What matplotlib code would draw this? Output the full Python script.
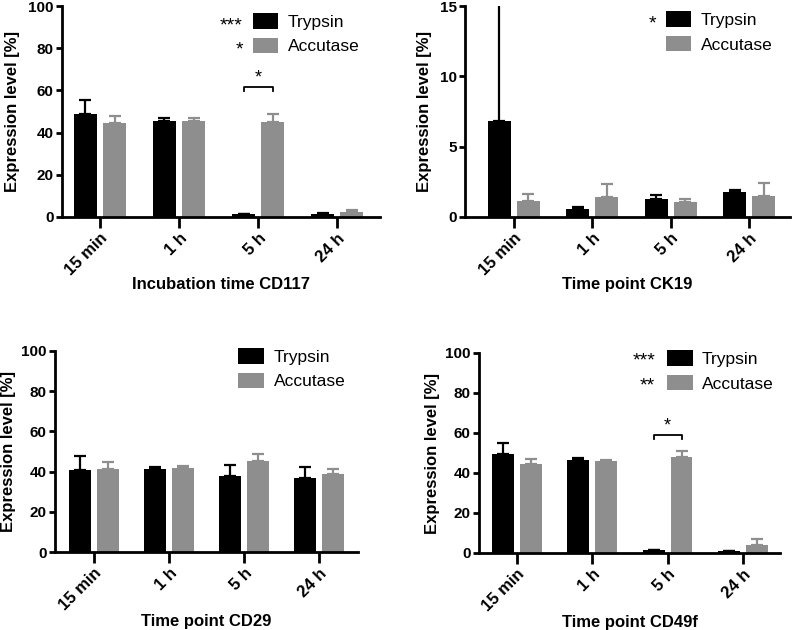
import matplotlib
matplotlib.use('Agg')
import matplotlib.pyplot as plt
import numpy as np
from matplotlib.patches import Patch

plt.rcParams['font.family'] = ['Liberation Sans', 'DejaVu Sans']

categories = ['15 min', '1 h', '5 h', '24 h']
series = ['Trypsin', 'Accutase']

cd117_trypsin = [49.0, 45.5, 1.2, 1.6]
cd117_trypsin_err = [6.5, 1.3, 0.3, 0.3]
cd117_accutase = [44.5, 45.7, 45.2, 2.3]
cd117_accutase_err = [3.3, 1.1, 3.8, 1.2]

ck19_trypsin = [6.8, 0.55, 1.25, 1.75]
ck19_trypsin_err = [9.0, 0.15, 0.3, 0.2]
ck19_accutase = [1.15, 1.45, 1.05, 1.5]
ck19_accutase_err = [0.5, 0.9, 0.25, 0.9]

cd29_trypsin = [41.0, 41.2, 38.0, 37.0]
cd29_trypsin_err = [7.0, 1.3, 5.2, 5.3]
cd29_accutase = [41.5, 42.0, 45.5, 38.8]
cd29_accutase_err = [3.5, 1.0, 3.5, 2.7]

cd49f_trypsin = [49.5, 46.5, 1.3, 1.0]
cd49f_trypsin_err = [5.5, 1.0, 0.3, 0.2]
cd49f_accutase = [44.5, 46.2, 48.2, 4.0]
cd49f_accutase_err = [2.7, 0.4, 3.0, 2.8]

BLACK = '#000000'
GRAY = '#8e8e8e'

W, H = 792, 630
fig = plt.figure(figsize=(W / 100, H / 100), dpi=100)


def rect(l, t, r, b):
    return [l / W, 1 - b / H, (r - l) / W, (b - t) / H]


panels = [
    dict(rect=rect(62, 6, 380, 217), xlim=(-0.48, 3.54), ylim=(0, 100), yticks=[0, 20, 40, 60, 80, 100],
         t=cd117_trypsin, te=cd117_trypsin_err, a=cd117_accutase, ae=cd117_accutase_err,
         xlabel='Incubation time CD117', ypad=6, xpad=-1, leg=(0.60, 0.966),
         stars=[('***', 0.569, 0.885), ('*', 0.569, 0.768)], bracket=(2, 61.5, 2.0)),
    dict(rect=rect(465, 6, 790, 217), xlim=(-0.62, 3.52), ylim=(0, 15), yticks=[0, 5, 10, 15],
         t=ck19_trypsin, te=ck19_trypsin_err, a=ck19_accutase, ae=ck19_accutase_err,
         xlabel='Time point CK19', ypad=5.5, xpad=-1, leg=(0.6175, 0.975),
         stars=[('*', 0.588, 0.893)], bracket=None),
    dict(rect=rect(55, 351, 358, 552), xlim=(-0.52, 3.52), ylim=(0, 100), yticks=[0, 20, 40, 60, 80, 100],
         t=cd29_trypsin, te=cd29_trypsin_err, a=cd29_accutase, ae=cd29_accutase_err,
         xlabel='Time point CD29', ypad=4, xpad=0, leg=(0.605, 1.015), stars=[], bracket=None),
    dict(rect=rect(479, 353, 780, 553), xlim=(-0.5, 3.49), ylim=(0, 100), yticks=[0, 20, 40, 60, 80, 100],
         t=cd49f_trypsin, te=cd49f_trypsin_err, a=cd49f_accutase, ae=cd49f_accutase_err,
         xlabel='Time point CD49f', ypad=4, xpad=0, leg=(0.624, 1.013),
         stars=[('***', 0.585, 0.938), ('**', 0.585, 0.813)], bracket=(2, 59.0, 2.0)),
]

x = np.arange(len(categories))
bw = 0.29
off = 0.185

for p in panels:
    ax = fig.add_axes(p['rect'])
    ax.bar(x - off, p['t'], bw, color=BLACK, zorder=2)
    ax.bar(x + off, p['a'], bw, color=GRAY, zorder=2)
    ax.errorbar(x - off, p['t'], yerr=[np.zeros(4), p['te']], fmt='none', ecolor=BLACK,
                elinewidth=1.6, capsize=4.5, capthick=1.6, zorder=1)
    ax.errorbar(x + off, p['a'], yerr=[np.zeros(4), p['ae']], fmt='none', ecolor=GRAY,
                elinewidth=1.6, capsize=4.5, capthick=1.6, zorder=1)
    ax.set_xlim(*p['xlim'])
    ax.set_ylim(*p['ylim'])
    ax.set_yticks(p['yticks'])
    ax.set_xticks(x)
    ax.set_xticklabels(categories, rotation=45, ha='right', rotation_mode='anchor',
                       fontweight='bold', fontsize=12)
    for lab in ax.get_yticklabels():
        lab.set_fontweight('bold')
        lab.set_fontsize(11)
    for s in ['top', 'right']:
        ax.spines[s].set_visible(False)
    for s in ['left', 'bottom']:
        ax.spines[s].set_linewidth(2.0)
    ax.tick_params(axis='y', width=2.0, length=4.5, direction='out', pad=1.5)
    ax.tick_params(axis='x', width=2.0, length=8, direction='out', pad=2)
    ax.set_ylabel('Expression level [%]', fontweight='bold', fontsize=12, labelpad=p['ypad'])
    ax.set_xlabel(p['xlabel'], fontweight='bold', fontsize=12, labelpad=p['xpad'])

    handles = [Patch(facecolor=BLACK, edgecolor='none'), Patch(facecolor=GRAY, edgecolor='none')]
    ax.legend(handles, series, loc='upper left', bbox_to_anchor=p['leg'], frameon=False,
              fontsize=12.5, handlelength=1.48, handleheight=1.0, handletextpad=0.55,
              labelspacing=0.45, borderpad=0, borderaxespad=0)
    for txt, sx, sy in p['stars']:
        ax.text(sx, sy, txt, transform=ax.transAxes, ha='right', va='baseline', fontsize=14)

    if p['bracket'] is not None:
        gi, by, drop = p['bracket']
        x0, x1 = x[gi] - off, x[gi] + off
        ax.plot([x0, x0, x1, x1], [by - drop, by, by, by - drop], color=BLACK, lw=1.3, zorder=3)
        ax.text((x0 + x1) / 2, by + 0.3, '*', ha='center', va='bottom', fontsize=13)

fig.savefig('out.png', dpi=100)
